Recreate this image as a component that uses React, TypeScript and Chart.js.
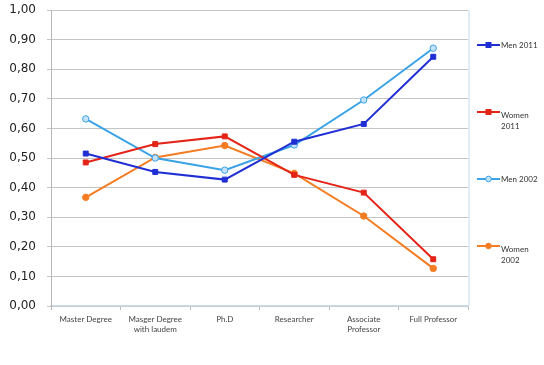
import React, { useEffect, useRef } from "react";
import { Chart, registerables } from "chart.js";

Chart.register(...registerables);

const categories: (string | string[])[] = [
  "Master Degree",
  ["Masger Degree", "with laudem"],
  "Ph.D",
  "Researcher",
  ["Associate", "Professor"],
  "Full Professor",
];

const men2011 = [0.515, 0.453, 0.427, 0.555, 0.615, 0.842];
const women2011 = [0.485, 0.547, 0.573, 0.443, 0.383, 0.158];
const men2002 = [0.632, 0.5, 0.459, 0.544, 0.696, 0.871];
const women2002 = [0.367, 0.502, 0.542, 0.448, 0.304, 0.127];

const legendLabels: string[][] = [["Men 2011"], ["Women", "2011"], ["Men 2002"], ["Women", "2002"]];

const COL_M11 = "#1f2fd4";
const COL_W11 = "#e42418";
const COL_M02 = "#3aa3e6";
const COL_W02 = "#f47c22";

const sideLegend = {
  id: "sideLegend",
  afterDraw(chart: any) {
    const { ctx, chartArea } = chart;
    ctx.save();
    ctx.strokeStyle = "#d6e6f6";
    ctx.lineWidth = 1.5;
    ctx.beginPath();
    ctx.moveTo(chartArea.right + 1, chartArea.top);
    ctx.lineTo(chartArea.right + 1, chartArea.bottom);
    ctx.stroke();

    const x0 = chartArea.right + 9;
    chart.data.datasets.forEach((ds: any, i: number) => {
      const y = chartArea.top + 35 + i * 67;
      ctx.strokeStyle = ds.borderColor;
      ctx.lineWidth = 2;
      ctx.beginPath();
      ctx.moveTo(x0, y);
      ctx.lineTo(x0 + 23, y);
      ctx.stroke();
      const mx = x0 + 11.5;
      if (ds.pointStyle === "rect") {
        ctx.fillStyle = ds.pointBackgroundColor;
        ctx.fillRect(mx - 3, y - 3, 6, 6);
      } else {
        ctx.beginPath();
        ctx.arc(mx, y, 2.8, 0, Math.PI * 2);
        ctx.fillStyle = ds.pointBackgroundColor;
        ctx.fill();
        ctx.lineWidth = 1;
        ctx.strokeStyle = ds.pointBorderColor;
        ctx.stroke();
      }
      ctx.fillStyle = "#333";
      ctx.font = "8px Lato";
      ctx.textBaseline = "middle";
      ctx.textAlign = "left";
      const lines = legendLabels[i];
      lines.forEach((t, j) => {
        ctx.fillText(t, x0 + 24, y + (lines.length > 1 ? 3 : 0) + j * 11);
      });
    });
    ctx.restore();
  },
};

export default function App() {
  const ref = useRef<HTMLCanvasElement>(null);
  useEffect(() => {
    if (!ref.current) return;
    const mk = (label: string, data: number[], color: string, style: string, bg: string, r: number) => ({
      label,
      data,
      borderColor: color,
      backgroundColor: color,
      pointBackgroundColor: bg,
      pointBorderColor: color,
      pointStyle: style,
      pointRadius: r,
      pointHoverRadius: r,
      pointBorderWidth: 1,
      borderWidth: 2,
      tension: 0,
    });
    const chart = new Chart(ref.current, {
      type: "line",
      data: {
        labels: categories,
        datasets: [
          mk("Men 2011", men2011, COL_M11, "rect", COL_M11, 3.5),
          mk("Women 2011", women2011, COL_W11, "rect", COL_W11, 3.5),
          mk("Men 2002", men2002, COL_M02, "circle", "#c4e2fa", 3.2),
          mk("Women 2002", women2002, COL_W02, "circle", COL_W02, 3.2),
        ] as any,
      },
      options: {
        animation: false,
        responsive: false,
        maintainAspectRatio: false,
        layout: { padding: { top: 10, right: 76, bottom: 0, left: 0 } },
        plugins: { legend: { display: false }, tooltip: { enabled: false } },
        scales: {
          x: {
            offset: true,
            grid: {
              display: true,
              drawOnChartArea: false,
              drawTicks: true,
              tickLength: 4,
              color: "#b8b8b8",
              offset: true,
            },
            border: { color: "#c9dbea", width: 1.5 },
            ticks: {
              color: "#444",
              font: { family: "Lato", size: 8 },
              padding: 5,
              maxRotation: 0,
              autoSkip: false,
            },
            afterFit: (s: any) => {
              s.height = 59;
              s.paddingLeft = 0;
              s.paddingRight = 0;
            },
          },
          y: {
            min: 0,
            max: 1,
            grid: { color: "#c4c4c4", lineWidth: 1, tickLength: 4 },
            border: { color: "#b8b8b8", width: 1 },
            ticks: {
              stepSize: 0.1,
              color: "#222",
              font: { family: "DejaVu Sans", size: 12 },
              padding: 11,
              callback: (v: any) => Number(v).toFixed(2).replace(".", ","),
            },
            afterFit: (s: any) => {
              s.width = 51;
              s.paddingTop = 0;
              s.paddingBottom = 0;
            },
          },
        },
      },
      plugins: [sideLegend],
    });
    return () => chart.destroy();
  }, []);
  return (
    <div style={{ position: "fixed", left: 0, top: 0, width: 544, height: 365, background: "#fff" }}>
      <canvas ref={ref} width={544} height={365} style={{ width: 544, height: 365 }} />
    </div>
  );
}
